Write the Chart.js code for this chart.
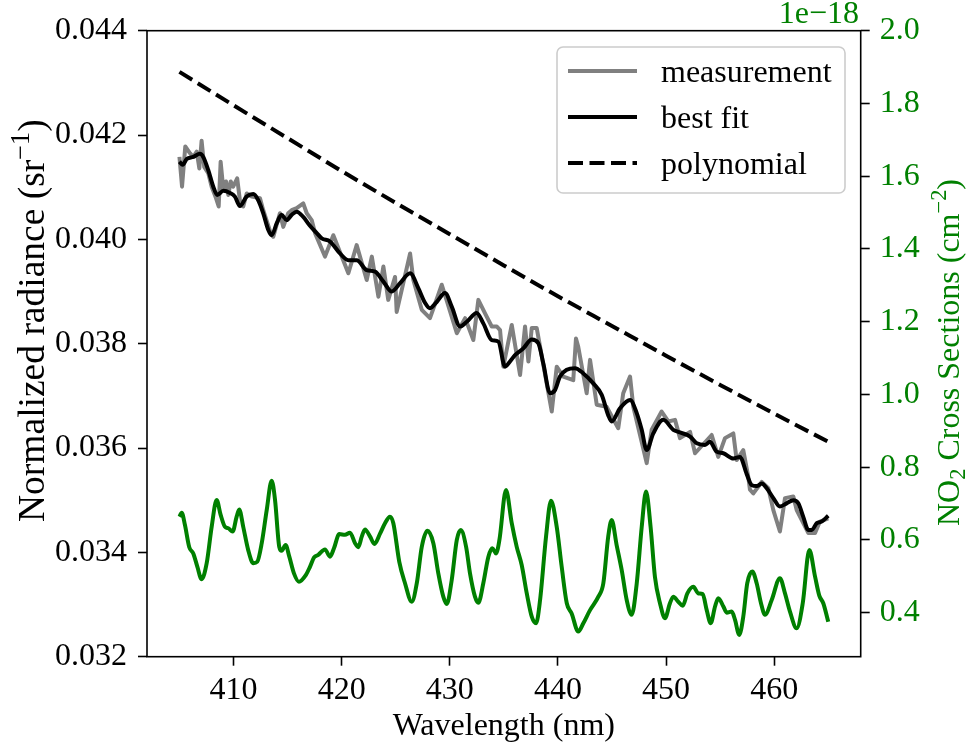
<!DOCTYPE html>
<html><head><meta charset="utf-8">
<script src="https://cdn.jsdelivr.net/npm/chart.js@4.4.0/dist/chart.umd.min.js"></script>
<style>html,body{margin:0;padding:0;background:#fff;}#wrap{width:969px;height:748px;position:relative;}</style>
</head><body><div id="wrap"><canvas id="c"></canvas></div>
<script>
const FAMILY = '"Liberation Serif", "Times New Roman", serif';
const xTicks = [410, 420, 430, 440, 450, 460];
const leftTicks = [0.032, 0.034, 0.036, 0.038, 0.040, 0.042, 0.044];
const rightTicks = [0.4, 0.6, 0.8, 1.0, 1.2, 1.4, 1.6, 1.8, 2.0];

const polyWl = [405, 410, 415, 420, 425, 430, 435, 440, 445, 450, 455, 460, 465];
const polyVal = [0.04321, 0.04257, 0.04194, 0.04131, 0.04070, 0.04010, 0.03950, 0.03891, 0.03834, 0.03777, 0.03721, 0.03666, 0.03612];

const fitWl = [405.00,405.30,405.67,406.28,406.90,407.20,407.66,408.13,408.50,409.06,409.68,410.13,410.59,411.22,411.83,412.29,412.75,413.22,413.53,414.00,414.45,414.91,415.38,415.84,416.45,417.07,417.70,418.16,418.92,419.85,420.62,421.39,422.32,423.09,423.86,424.63,425.40,426.33,427.10,427.72,428.17,428.79,429.56,430.18,430.95,431.57,432.49,433.10,433.88,434.49,435.11,435.57,436.03,436.80,437.58,438.19,438.65,439.27,439.73,440.19,440.82,441.58,442.35,443.27,444.05,444.65,444.97,445.74,446.67,447.29,447.75,448.21,448.82,449.74,450.67,451.29,452.22,452.84,453.60,454.06,454.68,455.30,456.22,456.83,457.46,457.92,458.38,458.85,459.31,459.92,460.53,461.15,461.77,462.23,462.69,463.16,463.47,463.94,464.39,465.00];
const fitVal = [0.04149,0.04143,0.04154,0.04158,0.04164,0.04158,0.04133,0.04101,0.04085,0.04093,0.04089,0.04082,0.04064,0.04082,0.04087,0.04075,0.04050,0.04018,0.04008,0.04031,0.04047,0.04037,0.04047,0.04053,0.04043,0.04026,0.04012,0.04002,0.03996,0.03973,0.03960,0.03960,0.03941,0.03938,0.03919,0.03900,0.03916,0.03935,0.03906,0.03878,0.03868,0.03880,0.03897,0.03871,0.03833,0.03842,0.03859,0.03839,0.03807,0.03804,0.03756,0.03766,0.03778,0.03791,0.03808,0.03801,0.03762,0.03705,0.03711,0.03737,0.03750,0.03753,0.03743,0.03724,0.03702,0.03663,0.03651,0.03676,0.03692,0.03667,0.03635,0.03596,0.03628,0.03654,0.03635,0.03630,0.03622,0.03609,0.03606,0.03612,0.03593,0.03590,0.03580,0.03583,0.03550,0.03529,0.03527,0.03532,0.03523,0.03504,0.03488,0.03494,0.03500,0.03494,0.03468,0.03443,0.03443,0.03456,0.03459,0.03470];

const measWl = [405.00,405.24,405.54,405.98,406.28,406.60,406.84,407.05,407.29,407.66,407.98,408.38,408.63,408.81,409.06,409.31,409.52,409.74,409.97,410.34,410.59,410.90,411.22,411.68,412.45,412.75,413.44,413.68,414.29,414.60,415.06,415.38,415.84,416.45,416.77,417.23,417.54,418.46,419.23,420.62,421.39,422.32,422.79,423.40,423.86,424.31,424.94,425.09,426.33,426.63,427.41,428.17,429.26,430.65,431.42,432.18,432.64,433.26,433.88,434.35,434.65,434.95,435.73,436.50,436.96,437.27,437.58,438.04,439.43,439.89,440.50,441.42,441.67,441.88,442.66,442.97,443.59,444.50,445.58,446.04,446.67,446.97,448.21,448.67,449.59,450.21,450.83,451.29,452.22,452.68,454.22,454.83,455.45,456.22,456.53,457.14,457.60,457.76,458.07,458.85,459.46,459.92,460.53,461.00,461.77,462.08,463.16,463.78,464.23,465.00];
const measVal = [0.04158,0.04101,0.04178,0.04165,0.04158,0.04168,0.04136,0.04189,0.04139,0.04127,0.04101,0.04079,0.04063,0.04149,0.04095,0.04111,0.04085,0.04111,0.04101,0.04117,0.04075,0.04063,0.04088,0.04082,0.04079,0.04056,0.04012,0.04005,0.04050,0.04024,0.04050,0.04056,0.04060,0.04069,0.04050,0.04037,0.04012,0.03967,0.04008,0.03935,0.03989,0.03922,0.03967,0.03890,0.03948,0.03884,0.03928,0.03861,0.03973,0.03922,0.03865,0.03849,0.03913,0.03820,0.03849,0.03807,0.03884,0.03858,0.03833,0.03833,0.03826,0.03756,0.03836,0.03740,0.03833,0.03766,0.03830,0.03830,0.03670,0.03756,0.03737,0.03730,0.03810,0.03794,0.03705,0.03769,0.03683,0.03679,0.03638,0.03705,0.03737,0.03679,0.03571,0.03635,0.03670,0.03651,0.03654,0.03619,0.03631,0.03590,0.03625,0.03583,0.03619,0.03628,0.03577,0.03596,0.03545,0.03520,0.03513,0.03535,0.03523,0.03481,0.03440,0.03504,0.03507,0.03481,0.03437,0.03437,0.03459,0.03465];

// NO2 cross section, units of 1e-18 cm^2
const no2Wl = [405.00,405.21,405.51,405.91,406.28,406.66,407.05,407.52,407.98,408.44,408.81,409.21,409.52,409.92,410.29,410.53,410.90,411.36,411.83,412.20,412.61,413.07,413.53,413.84,414.23,414.45,414.82,415.16,415.59,416.05,416.70,417.07,417.45,417.84,418.46,418.92,419.29,419.78,420.31,420.77,421.24,421.54,421.86,422.16,422.63,423.03,423.56,424.01,424.47,424.78,425.33,425.86,426.48,426.95,427.41,427.93,428.48,428.94,429.40,429.72,430.18,430.65,431.02,431.51,431.87,432.33,432.64,433.10,433.57,433.94,434.28,434.59,435.20,435.73,436.19,436.65,437.12,437.58,437.98,438.35,438.90,439.36,439.89,440.35,440.82,441.27,441.88,442.35,442.97,443.74,444.20,444.65,444.97,445.43,445.90,446.36,446.82,447.29,447.75,448.15,448.57,448.97,449.44,449.90,450.36,450.67,451.13,451.54,451.97,452.52,452.99,453.39,453.76,454.13,454.53,454.83,455.30,455.61,456.07,456.38,456.77,457.14,457.51,457.98,458.38,458.78,459.15,459.77,460.53,461.00,461.46,462.08,462.64,463.25,463.78,464.17,464.54,465.00];
const no2Val = [0.664,0.675,0.641,0.580,0.563,0.526,0.492,0.536,0.636,0.710,0.669,0.636,0.632,0.623,0.664,0.684,0.636,0.572,0.536,0.540,0.591,0.682,0.763,0.710,0.581,0.570,0.586,0.554,0.508,0.485,0.504,0.526,0.552,0.559,0.574,0.554,0.577,0.616,0.614,0.620,0.591,0.580,0.609,0.629,0.609,0.589,0.618,0.646,0.664,0.646,0.540,0.481,0.430,0.481,0.581,0.625,0.591,0.508,0.444,0.424,0.490,0.600,0.627,0.581,0.508,0.444,0.427,0.481,0.554,0.577,0.563,0.600,0.737,0.646,0.581,0.531,0.453,0.389,0.371,0.435,0.609,0.708,0.636,0.526,0.426,0.398,0.348,0.371,0.407,0.444,0.481,0.609,0.655,0.586,0.517,0.435,0.394,0.481,0.636,0.733,0.636,0.499,0.426,0.385,0.426,0.444,0.430,0.419,0.453,0.471,0.453,0.451,0.407,0.371,0.417,0.440,0.417,0.400,0.403,0.380,0.339,0.389,0.481,0.513,0.481,0.426,0.394,0.435,0.495,0.453,0.403,0.357,0.426,0.572,0.499,0.447,0.426,0.375];

const pts = (xs, ys) => xs.map((x, i) => ({x: x, y: ys[i]}));

function drawRich(ctx, parts, x, y, size, color) {
  ctx.save();
  ctx.translate(x, y);
  ctx.rotate(-Math.PI / 2);
  ctx.fillStyle = color;
  ctx.textBaseline = 'alphabetic';
  ctx.textAlign = 'left';
  let cx = 0;
  for (const p of parts) {
    const s = p.s ? size * 0.7 : size;
    ctx.font = s + 'px ' + FAMILY;
    const dy = p.s === 1 ? -size * 0.4 : (p.s === -1 ? size * 0.2 : 0);
    ctx.fillText(p.t, cx, dy);
    cx += ctx.measureText(p.t).width;
  }
  ctx.restore();
}

const extras = {
  id: 'extras',
  afterDatasetsDraw(chart) {
    const ctx = chart.ctx, a = chart.chartArea;
    ctx.save();
    ctx.strokeStyle = '#000';
    ctx.lineWidth = 1.6;
    ctx.strokeRect(a.left, a.top, a.right - a.left, a.bottom - a.top);
    const bx = 557, by = 47, bw = 288, bh = 146, r = 6;
    ctx.beginPath();
    ctx.moveTo(bx + r, by);
    ctx.arcTo(bx + bw, by, bx + bw, by + bh, r);
    ctx.arcTo(bx + bw, by + bh, bx, by + bh, r);
    ctx.arcTo(bx, by + bh, bx, by, r);
    ctx.arcTo(bx, by, bx + bw, by, r);
    ctx.closePath();
    ctx.fillStyle = 'rgba(255,255,255,0.8)';
    ctx.fill();
    ctx.strokeStyle = '#cccccc';
    ctx.lineWidth = 1.6;
    ctx.stroke();
    const items = [chart.data.datasets[1], chart.data.datasets[0], chart.data.datasets[2]];
    items.forEach((ds, i) => {
      const ly = 71 + i * 46;
      ctx.beginPath();
      ctx.setLineDash(ds.borderDash || []);
      ctx.strokeStyle = ds.borderColor;
      ctx.lineWidth = ds.borderWidth;
      ctx.moveTo(568, ly);
      ctx.lineTo(637, ly);
      ctx.stroke();
      ctx.setLineDash([]);
      ctx.fillStyle = '#000';
      ctx.font = '32px ' + FAMILY;
      ctx.textBaseline = 'alphabetic';
      ctx.textAlign = 'left';
      ctx.fillText(ds.label, 661, ly + 10.5);
    });
    ctx.restore();
  },
  afterDraw(chart) {
    const ctx = chart.ctx;
    drawRich(ctx, [{t: 'Normalized radiance (sr'}, {t: '\u22121', s: 1}, {t: ')'}], 44, 522, 37.5, '#000');
    drawRich(ctx, [{t: 'NO'}, {t: '2', s: -1}, {t: ' Cross Sections (cm'}, {t: '\u22122', s: 1}, {t: ')'}], 959, 526, 32, '#008000');
    ctx.save();
    ctx.fillStyle = '#008000';
    ctx.font = '32px ' + FAMILY;
    ctx.textAlign = 'right';
    ctx.textBaseline = 'alphabetic';
    ctx.fillText('1e\u221218', 859, 23);
    ctx.restore();
  }
};

const tickFont = {family: FAMILY, size: 32};
new Chart(document.getElementById('c'), {
  type: 'line',
  data: {
    datasets: [
      {label: 'best fit', data: pts(fitWl, fitVal), yAxisID: 'y', borderColor: '#000000', borderWidth: 4, pointRadius: 0, cubicInterpolationMode: 'monotone', borderJoinStyle: 'round', order: 1},
      {label: 'measurement', data: pts(measWl, measVal), yAxisID: 'y', borderColor: '#808080', borderWidth: 4, pointRadius: 0, tension: 0, borderJoinStyle: 'round', order: 2},
      {label: 'polynomial', data: pts(polyWl, polyVal), yAxisID: 'y', borderColor: '#000000', borderWidth: 4, borderDash: [15, 6.5], pointRadius: 0, cubicInterpolationMode: 'monotone', order: 3},
      {label: 'NO2 cross section', data: pts(no2Wl, no2Val), yAxisID: 'y2', borderColor: '#008000', borderWidth: 4, pointRadius: 0, cubicInterpolationMode: 'monotone', borderJoinStyle: 'round', order: 4}
    ]
  },
  options: {
    responsive: true,
    maintainAspectRatio: false,
    devicePixelRatio: 1,
    animation: false,
    layout: {padding: {top: 30.7, left: 0, right: 0, bottom: 0}},
    plugins: {legend: {display: false}, tooltip: {enabled: false}, title: {display: false}},
    scales: {
      x: {
        type: 'linear', position: 'bottom', min: 402, max: 468,
        afterBuildTicks: s => { s.ticks = xTicks.map(v => ({value: v})); },
        afterFit: s => { s.height = 91.3; },
        grid: {drawOnChartArea: false, drawTicks: true, tickLength: 9, tickWidth: 1.6, tickColor: '#000', color: '#000'},
        border: {display: false},
        ticks: {color: '#000', font: tickFont, padding: 6, maxRotation: 0, autoSkip: false},
        title: {display: true, text: 'Wavelength (nm)', color: '#000', font: tickFont, padding: {top: 0, bottom: 2}}
      },
      y: {
        type: 'linear', position: 'left', min: 0.032, max: 0.044,
        afterBuildTicks: s => { s.ticks = leftTicks.map(v => ({value: v})); },
        afterFit: s => { s.width = 147; },
        grid: {drawOnChartArea: false, drawTicks: true, tickLength: 9, tickWidth: 1.6, tickColor: '#000', color: '#000'},
        border: {display: false},
        ticks: {color: '#000', font: tickFont, padding: 11, callback: v => v.toFixed(3)}
      },
      y2: {
        type: 'linear', position: 'right', min: 0.279, max: 2.0,
        afterBuildTicks: s => { s.ticks = rightTicks.map(v => ({value: v})); },
        afterFit: s => { s.width = 108.3; },
        grid: {drawOnChartArea: false, drawTicks: true, tickLength: 9, tickWidth: 1.6, tickColor: '#000', color: '#000'},
        border: {display: false},
        ticks: {color: '#008000', font: tickFont, padding: 10, callback: v => v.toFixed(1)}
      }
    }
  },
  plugins: [extras]
});
</script>
</body></html>
